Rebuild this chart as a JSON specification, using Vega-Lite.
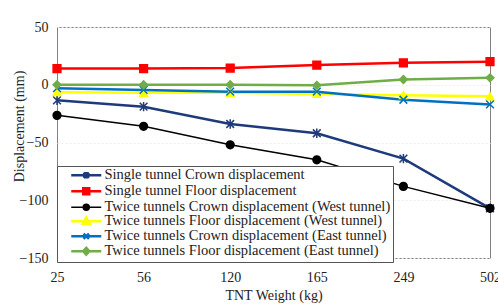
{
  "$schema": "https://vega.github.io/schema/vega-lite/v6.json",
  "autosize": {"type": "none"},
  "width": 433,
  "height": 231,
  "padding": {"left": 57, "top": 27, "right": 8, "bottom": 46},
  "background": "white",
  "config": {
    "font": "Times New Roman, serif",
    "view": {"stroke": "#808080", "strokeWidth": 1}
  },
  "data": {
    "values": [
      {"w": "25", "s": "Single tunnel Crown displacement", "v": -13.5},
      {"w": "56", "s": "Single tunnel Crown displacement", "v": -19},
      {"w": "120", "s": "Single tunnel Crown displacement", "v": -34},
      {"w": "165", "s": "Single tunnel Crown displacement", "v": -42},
      {"w": "249", "s": "Single tunnel Crown displacement", "v": -64},
      {"w": "502", "s": "Single tunnel Crown displacement", "v": -107},
      {"w": "25", "s": "Single tunnel Floor displacement", "v": 14},
      {"w": "56", "s": "Single tunnel Floor displacement", "v": 14},
      {"w": "120", "s": "Single tunnel Floor displacement", "v": 14.5},
      {"w": "165", "s": "Single tunnel Floor displacement", "v": 17},
      {"w": "249", "s": "Single tunnel Floor displacement", "v": 19},
      {"w": "502", "s": "Single tunnel Floor displacement", "v": 20},
      {"w": "25", "s": "Twice tunnels Crown displacement (West tunnel)", "v": -26.5},
      {"w": "56", "s": "Twice tunnels Crown displacement (West tunnel)", "v": -36},
      {"w": "120", "s": "Twice tunnels Crown displacement (West tunnel)", "v": -52},
      {"w": "165", "s": "Twice tunnels Crown displacement (West tunnel)", "v": -65},
      {"w": "249", "s": "Twice tunnels Crown displacement (West tunnel)", "v": -88},
      {"w": "502", "s": "Twice tunnels Crown displacement (West tunnel)", "v": -107},
      {"w": "25", "s": "Twice tunnels Floor displacement (West tunnel)", "v": -6.5},
      {"w": "56", "s": "Twice tunnels Floor displacement (West tunnel)", "v": -7},
      {"w": "120", "s": "Twice tunnels Floor displacement (West tunnel)", "v": -7},
      {"w": "165", "s": "Twice tunnels Floor displacement (West tunnel)", "v": -8},
      {"w": "249", "s": "Twice tunnels Floor displacement (West tunnel)", "v": -9},
      {"w": "502", "s": "Twice tunnels Floor displacement (West tunnel)", "v": -10},
      {"w": "25", "s": "Twice tunnels Crown displacement (East tunnel)", "v": -3},
      {"w": "56", "s": "Twice tunnels Crown displacement (East tunnel)", "v": -4.5},
      {"w": "120", "s": "Twice tunnels Crown displacement (East tunnel)", "v": -6},
      {"w": "165", "s": "Twice tunnels Crown displacement (East tunnel)", "v": -6},
      {"w": "249", "s": "Twice tunnels Crown displacement (East tunnel)", "v": -13},
      {"w": "502", "s": "Twice tunnels Crown displacement (East tunnel)", "v": -17},
      {"w": "25", "s": "Twice tunnels Floor displacement (East tunnel)", "v": 0},
      {"w": "56", "s": "Twice tunnels Floor displacement (East tunnel)", "v": 0},
      {"w": "120", "s": "Twice tunnels Floor displacement (East tunnel)", "v": 0},
      {"w": "165", "s": "Twice tunnels Floor displacement (East tunnel)", "v": -0.5},
      {"w": "249", "s": "Twice tunnels Floor displacement (East tunnel)", "v": 4.5},
      {"w": "502", "s": "Twice tunnels Floor displacement (East tunnel)", "v": 6}
    ]
  },
  "encoding": {
    "x": {
      "field": "w", "type": "ordinal", "sort": null,
      "scale": {"type": "point", "padding": 0},
      "axis": {"title": "TNT Weight (kg)", "labelAngle": 0, "ticks": false, "domain": false, "grid": false,
               "labelFont": "Times New Roman, serif", "labelFontSize": 14, "labelColor": "#222", "labelPadding": 12,
               "titleFont": "Times New Roman, serif", "titleFontSize": 14, "titleFontWeight": "normal", "titleColor": "#222", "titlePadding": 4}
    },
    "y": {
      "field": "v", "type": "quantitative",
      "scale": {"domain": [-150, 50], "nice": false, "zero": false},
      "axis": {"title": "Displacement (mm)", "values": [-150, -100, -50, 0, 50], "ticks": false, "domain": false,
               "grid": true, "gridColor": "#ececec", "gridDash": [2, 2],
               "labelFont": "Times New Roman, serif", "labelFontSize": 14, "labelColor": "#222", "labelPadding": 9,
               "titleFont": "Times New Roman, serif", "titleFontSize": 14, "titleFontWeight": "normal", "titleColor": "#222", "titleX": -31, "titleY": 99}
    }
  },
  "resolve": {"legend": {"color": "independent", "shape": "independent", "stroke": "independent"}},
  "layer": [
    {
      "mark": {"type": "line"},
      "encoding": {
        "strokeWidth": {"condition": {"test": "datum.s === 'Twice tunnels Crown displacement (West tunnel)'", "value": 1.5}, "value": 2.5},
        "color": {
          "field": "s", "type": "nominal",
          "scale": {
            "domain": ["Single tunnel Crown displacement", "Single tunnel Floor displacement", "Twice tunnels Crown displacement (West tunnel)", "Twice tunnels Floor displacement (West tunnel)", "Twice tunnels Crown displacement (East tunnel)", "Twice tunnels Floor displacement (East tunnel)"],
            "range": ["#1f3a7a", "#ff0000", "#000000", "#ffff00", "#0070c0", "#70ad47"]
          },
          "legend": {
            "title": null, "orient": "none", "legendX": 0, "legendY": 139,
            "fillColor": "white", "strokeColor": "#555", "padding": 2,
            "symbolSize": 225, "symbolStrokeWidth": 2.5, "rowPadding": -2, "symbolOffset": 20,
            "labelFont": "Times New Roman, serif", "labelFontSize": 14.5, "labelColor": "#222", "labelOffset": 11, "labelLimit": 400,
            "encode": {
              "symbols": {
                "update": {
                  "shape": {"signal": "datum.value === 'Single tunnel Crown displacement' ? 'M-2,0H2M-0.36,-0.36L0.36,0.36M0.36,-0.36L-0.36,0.36M0,-0.44V0.44' : datum.value === 'Single tunnel Floor displacement' ? 'M-2,0H2M-0.4,-0.4H0.4V0.4H-0.4Z' : datum.value === 'Twice tunnels Crown displacement (West tunnel)' ? 'M-2,0H2M-0.4,0A0.4,0.4,0,1,0,0.4,0A0.4,0.4,0,1,0,-0.4,0Z' : datum.value === 'Twice tunnels Floor displacement (West tunnel)' ? 'M-2,0H2M0,-0.48L0.44,0.32H-0.44Z' : datum.value === 'Twice tunnels Crown displacement (East tunnel)' ? 'M-2,0H2M-0.36,-0.36L0.36,0.36M0.36,-0.36L-0.36,0.36' : 'M-2,0H2M0,-0.44L0.4,0L0,0.44L-0.4,0Z'"},
                  "fill": {"signal": "datum.value === 'Single tunnel Crown displacement' || datum.value === 'Twice tunnels Crown displacement (East tunnel)' ? 'transparent' : scale('color', datum.value)"},
                  "strokeWidth": {"signal": "datum.value === 'Twice tunnels Crown displacement (West tunnel)' ? 1.5 : 2.5"}
                }
              }
            }
          }
        }
      }
    },
    {
      "mark": {"type": "point", "filled": true, "size": 60, "strokeWidth": 1.5, "opacity": 1},
      "encoding": {
        "color": {"field": "s", "type": "nominal", "legend": null},
        "stroke": {"field": "s", "type": "nominal", "legend": null,
          "scale": {
            "domain": ["Single tunnel Crown displacement", "Single tunnel Floor displacement", "Twice tunnels Crown displacement (West tunnel)", "Twice tunnels Floor displacement (West tunnel)", "Twice tunnels Crown displacement (East tunnel)", "Twice tunnels Floor displacement (East tunnel)"],
            "range": ["#1f3a7a", "#ff0000", "#000000", "#ffff00", "#0070c0", "#70ad47"]
          }},
        "shape": {"field": "s", "type": "nominal", "legend": null,
          "scale": {
            "domain": ["Single tunnel Crown displacement", "Single tunnel Floor displacement", "Twice tunnels Crown displacement (West tunnel)", "Twice tunnels Floor displacement (West tunnel)", "Twice tunnels Crown displacement (East tunnel)", "Twice tunnels Floor displacement (East tunnel)"],
            "range": ["M-1,-1L1,1M1,-1L-1,1M0,-1.2V1.2", "square", "circle", "triangle-up", "M-1,-1L1,1M1,-1L-1,1", "diamond"]
          }}
      }
    }
  ]
}
